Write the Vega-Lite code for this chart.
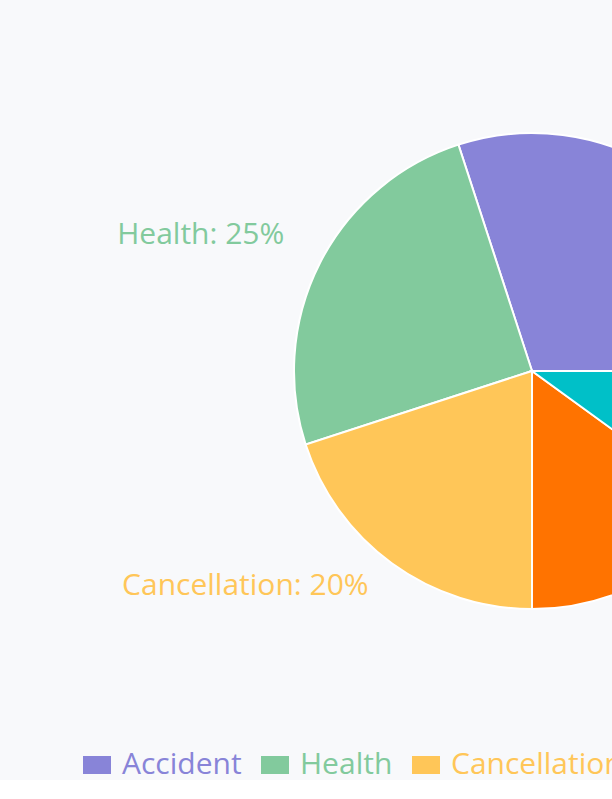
{
  "$schema": "https://vega.github.io/schema/vega-lite/v6.json",
  "width": 1064,
  "height": 742,
  "padding": 0,
  "background": "#f8f9fb",
  "config": {"view": {"stroke": null}},
  "data": {
    "values": [
      {"idx": 0, "category": "Accident", "value": 30},
      {"idx": 1, "category": "Health", "value": 25},
      {"idx": 2, "category": "Cancellation", "value": 20},
      {"idx": 3, "category": "Baggage", "value": 15},
      {"idx": 4, "category": "Other", "value": 10}
    ]
  },
  "transform": [
    {"calculate": "datum.category + ': ' + datum.value + '%'", "as": "label"}
  ],
  "encoding": {
    "theta": {
      "field": "value",
      "type": "quantitative",
      "stack": true,
      "scale": {"domain": [0, 100], "range": [1.5707963, -4.712389]}
    },
    "order": {"field": "idx", "type": "quantitative", "sort": "ascending"},
    "color": {
      "field": "category",
      "type": "nominal",
      "scale": {
        "domain": ["Accident", "Health", "Cancellation", "Baggage", "Other"],
        "range": ["#8884d8", "#82ca9d", "#ffc658", "#ff7300", "#00c0c8"]
      },
      "legend": {
        "title": null,
        "orient": "none",
        "direction": "horizontal",
        "legendX": 82,
        "legendY": 750,
        "symbolType": "M-1,-0.643L1,-0.643L1,0.643L-1,0.643Z",
        "symbolSize": 784,
        "symbolStrokeWidth": 0,
        "symbolOpacity": 1,
        "labelFont": "Open Sans",
        "labelFontSize": 30,
        "labelOffset": 10,
        "columnPadding": 18,
        "labelLimit": 400,
        "encode": {
          "labels": {"update": {"fill": {"scale": "color", "field": "value"}}}
        }
      }
    }
  },
  "layer": [
    {
      "mark": {"type": "arc", "outerRadius": 238, "stroke": "#ffffff", "strokeWidth": 2}
    },
    {
      "mark": {
        "type": "text",
        "radius": 278,
        "font": "Open Sans",
        "fontSize": 30,
        "baseline": "middle",
        "dy": -10,
        "align": {"expr": "((datum.value_start + datum.value_end) / 2 > 25 && (datum.value_start + datum.value_end) / 2 < 75) ? 'right' : 'left'"}
      },
      "encoding": {"text": {"field": "label", "type": "nominal"}}
    }
  ]
}
